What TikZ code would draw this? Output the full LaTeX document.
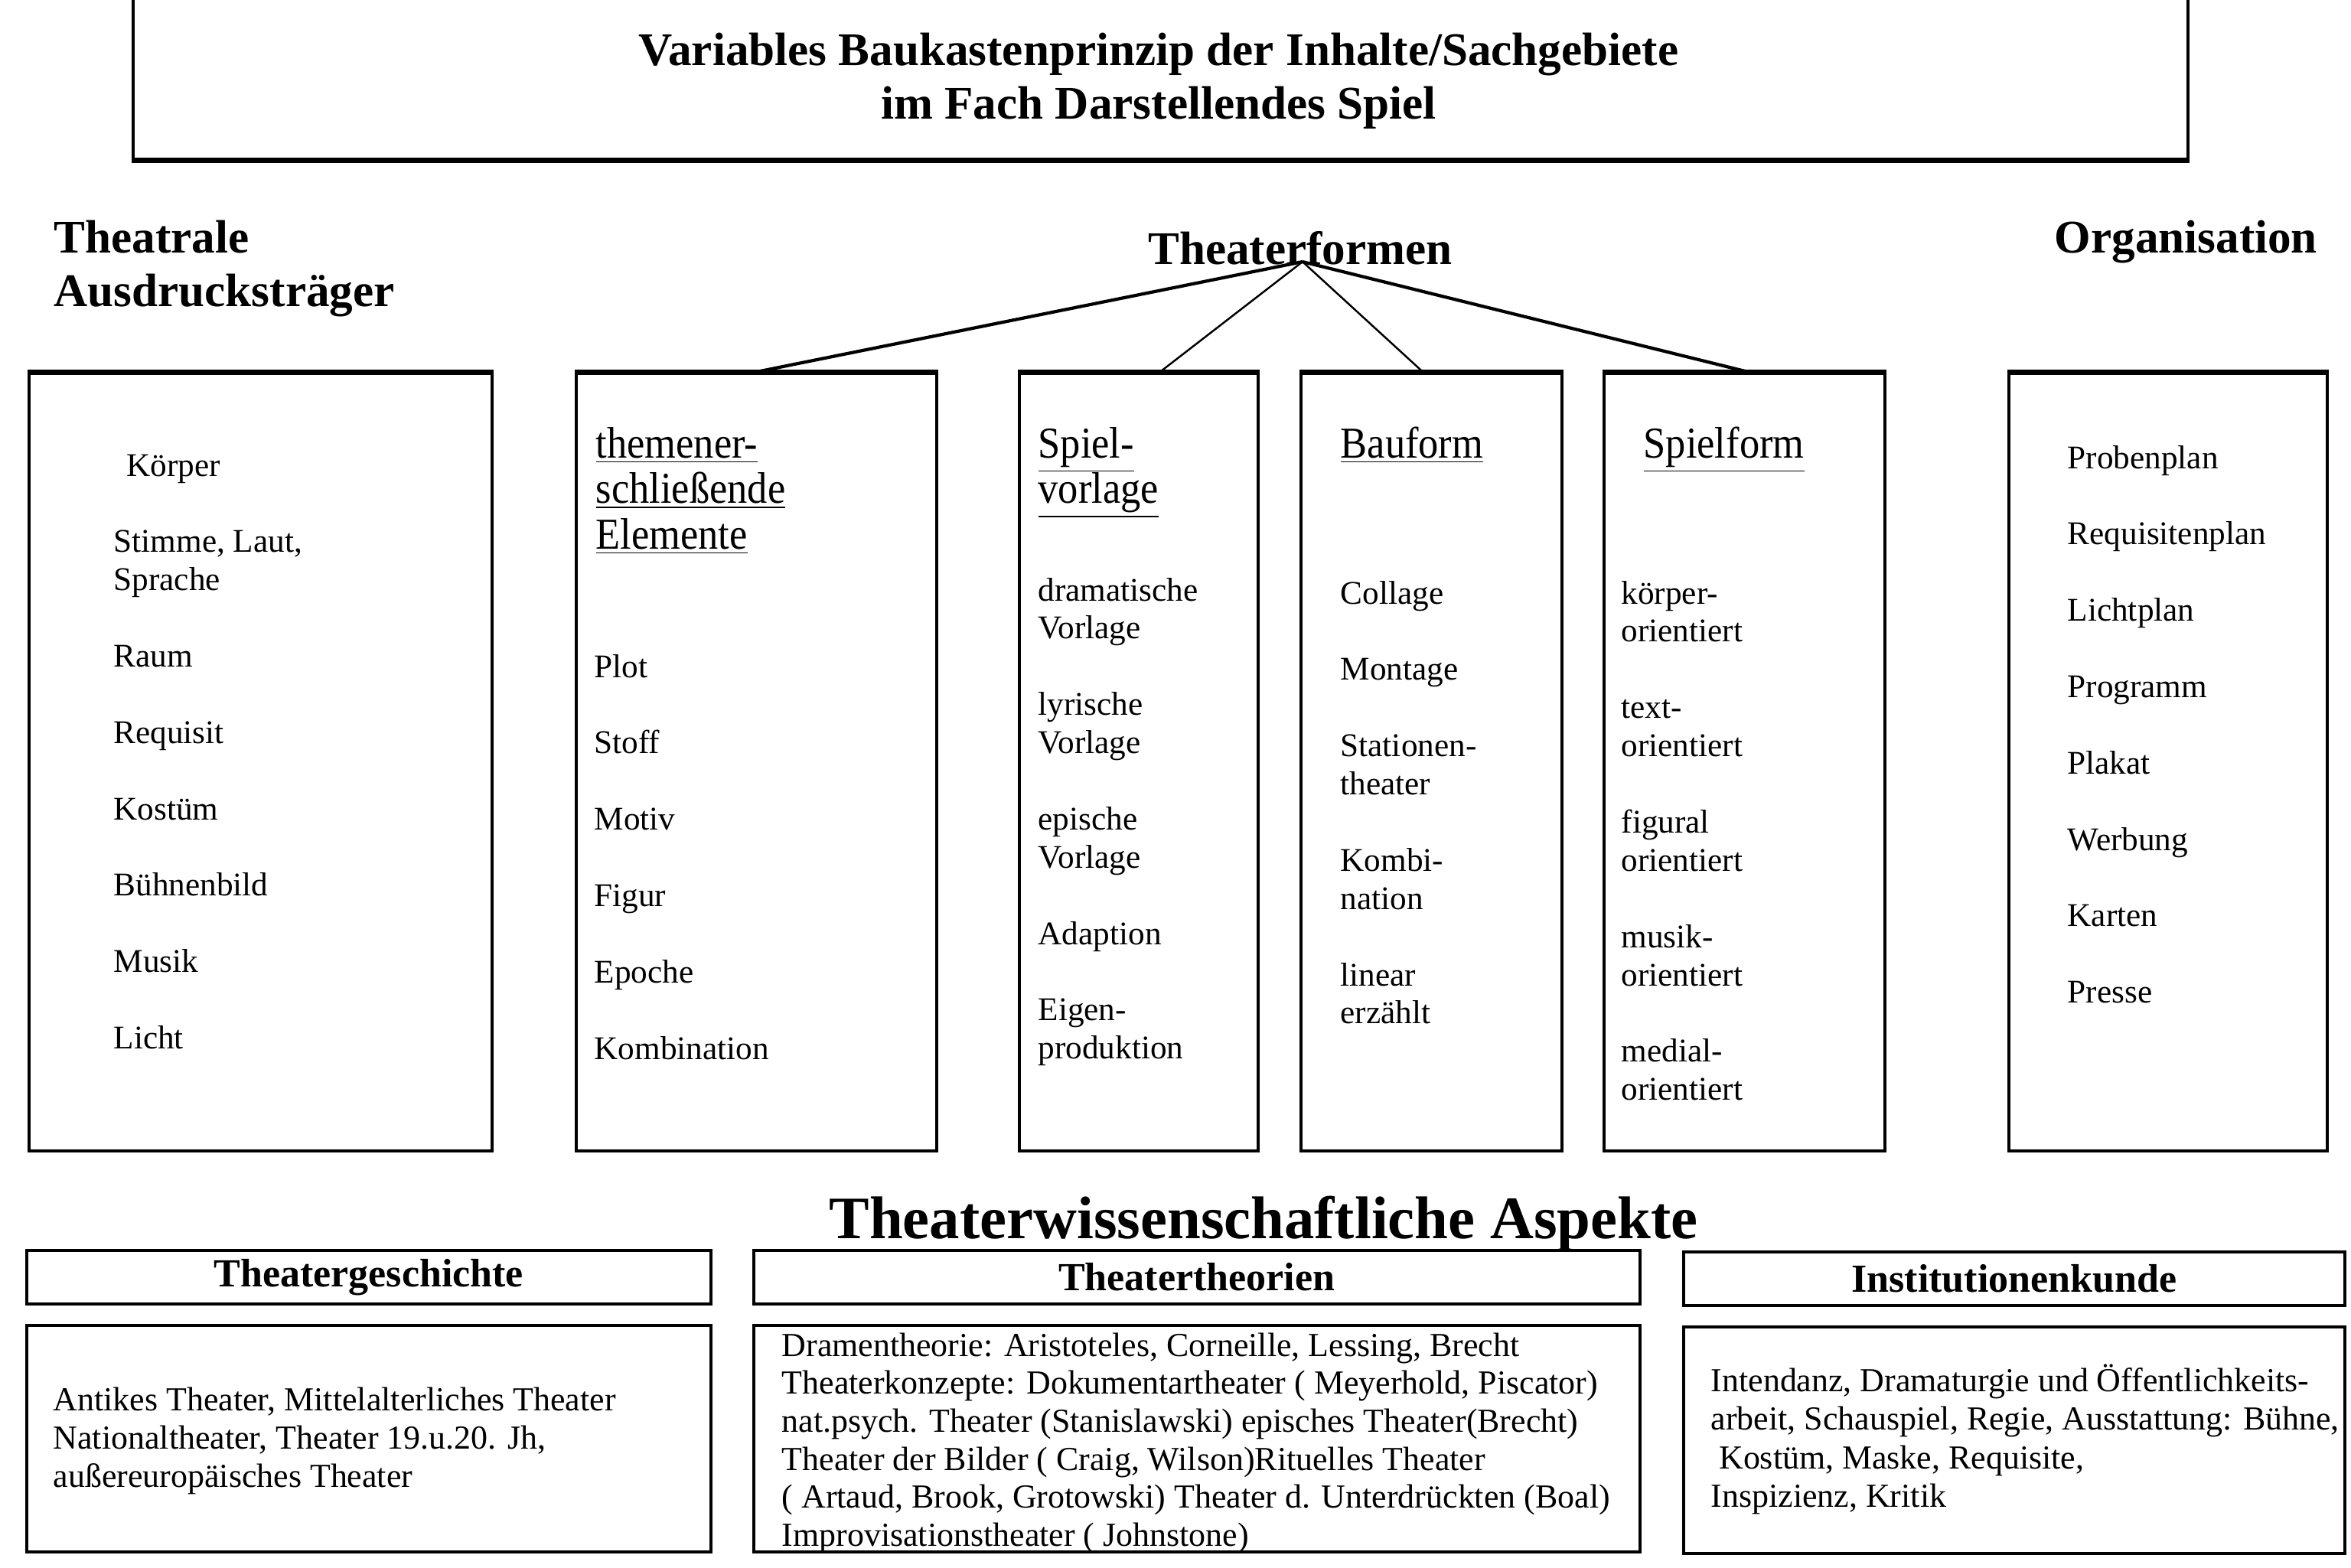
\documentclass[tikz,border=0pt]{standalone}
\usepackage{fontspec}
\setmainfont{Liberation Serif}
\usetikzlibrary{positioning}

\newcommand{\headword}[1]{\scalebox{0.91}[1]{\underline{#1}}}

\begin{document}
\begin{tikzpicture}[
  frame/.style={draw, line width=1pt, anchor=north west, inner sep=0pt},
  heavy/.style={line width=2pt},
  head/.style={font=\fontsize{17.4}{20}\selectfont\bfseries, inner sep=0pt},
  colhead/.style={font=\fontsize{16.4}{17}\selectfont, inner sep=0pt, anchor=base west},
  entry/.style={font=\fontsize{12.3}{14.2}\selectfont, inner sep=0pt, anchor=base west},
  bodytext/.style={font=\fontsize{12.5}{14.2}\selectfont, inner sep=0pt, anchor=base west},
  subhead/.style={frame, font=\fontsize{14.8}{17}\selectfont\bfseries},
  spoke/.style={line width=1.2pt},
  thinspoke/.style={line width=0.7pt}
]
  \useasboundingbox (0,0) rectangle (30.72,-20.48);

  % title
  \node[frame, minimum width=26.85cm, minimum height=2.11cm] (titlebox) at (1.72,0.05) {};
  \draw[heavy] (titlebox.south west) -- (titlebox.south east);
  \node[head, anchor=base] (title1) at (15.14,-0.85) {Variables Baukastenprinzip der Inhalte/Sachgebiete};
  \node[head, anchor=base] (title2) at (15.14,-1.55) {im Fach Darstellendes Spiel};

  % group headings
  \node[head, anchor=base west] (ausd1) at (0.70,-3.30) {Theatrale};
  \node[head, anchor=base west] (ausd2) at (0.70,-4.00) {Ausdrucksträger};
  \node[head, anchor=base] (tf) at (16.99,-3.45) {Theaterformen};
  \node[head, anchor=base west] (org) at (26.84,-3.30) {Organisation};

  % column boxes
  \node[frame, minimum width=6.05cm, minimum height=10.16cm] (ausdbox)    at (0.36,-4.86) {};
  \node[frame, minimum width=4.71cm, minimum height=10.16cm] (themenbox)  at (7.51,-4.86) {};
  \node[frame, minimum width=3.12cm, minimum height=10.16cm] (vorlagebox) at (13.30,-4.86) {};
  \node[frame, minimum width=3.41cm, minimum height=10.16cm] (baubox)     at (16.98,-4.86) {};
  \node[frame, minimum width=3.67cm, minimum height=10.16cm] (spielbox)   at (20.94,-4.86) {};
  \node[frame, minimum width=4.16cm, minimum height=10.16cm] (orgbox)     at (26.23,-4.86) {};
  \foreach \b in {ausdbox,themenbox,vorlagebox,baubox,spielbox,orgbox}
    \draw[heavy] (\b.north west) -- (\b.north east);

  % spokes from Theaterformen
  \coordinate (apex) at (17.02,-3.42);
  \draw[spoke] (apex) -- (themenbox.north);
  \draw[thinspoke] (apex) -- ([xshift=2.8mm]vorlagebox.north);
  \draw[thinspoke] (apex) -- ([xshift=-1.1mm]baubox.north);
  \draw[spoke] (apex) -- ([xshift=0.5mm]spielbox.north);

  % Theatrale Ausdrucksträger
  \foreach \txt/\ln [count=\i] in {\hspace*{4.8pt}Körper/0, {Stimme, Laut,}/2, Sprache/3,
      Raum/5, Requisit/7, Kostüm/9, Bühnenbild/11, Musik/13, Licht/15}
    \node[entry] (ausd-\i) at (1.48,-6.22-0.499*\ln) {\txt};

  % themenerschließende Elemente
  \foreach \txt/\ln [count=\i] in {themener-/0, schließende/1, Elemente/2}
    \node[colhead] (themenhead-\i) at (7.78,-5.98-0.595*\ln) {\headword{\txt}};
  \foreach \txt/\ln [count=\i] in {Plot/0, Stoff/2, Motiv/4, Figur/6, Epoche/8, Kombination/10}
    \node[entry] (themen-\i) at (7.76,-8.85-0.499*\ln) {\txt};

  % Spielvorlage
  \foreach \txt/\ln [count=\i] in {Spiel-/0, vorlage/1}
    \node[colhead] (vorlagehead-\i) at (13.56,-5.98-0.595*\ln) {\headword{\txt}};
  \foreach \txt/\ln [count=\i] in {dramatische/0, Vorlage/1, lyrische/3, Vorlage/4,
      epische/6, Vorlage/7, Adaption/9, Eigen-/11, produktion/12}
    \node[entry] (vorlage-\i) at (13.56,-7.85-0.499*\ln) {\txt};

  % Bauform
  \node[colhead] (bauhead) at (17.51,-5.98) {\headword{Bauform}};
  \foreach \txt/\ln [count=\i] in {Collage/0, Montage/2, Stationen-/4, theater/5,
      Kombi-/7, nation/8, linear/10, erzählt/11}
    \node[entry] (bau-\i) at (17.51,-7.89-0.499*\ln) {\txt};

  % Spielform
  \node[colhead] (spielhead) at (21.47,-5.98) {\headword{Spielform}};
  \foreach \txt/\ln [count=\i] in {körper-/0, orientiert/1, text-/3, orientiert/4,
      figural/6, orientiert/7, musik-/9, orientiert/10, medial-/12, orientiert/13}
    \node[entry] (spiel-\i) at (21.18,-7.89-0.499*\ln) {\txt};

  % Organisation
  \foreach \txt/\ln [count=\i] in {Probenplan/0, Requisitenplan/2, Lichtplan/4, Programm/6,
      Plakat/8, Werbung/10, Karten/12, Presse/14}
    \node[entry] (org-\i) at (27.01,-6.12-0.499*\ln) {\txt};

  % Theaterwissenschaftliche Aspekte
  \node[font=\fontsize{22.4}{26}\selectfont\bfseries, inner sep=0pt, anchor=base] (aspekte)
    at (16.51,-16.18) {Theaterwissenschaftliche Aspekte};

  \node[subhead, minimum width=8.94cm, minimum height=0.70cm] (gesch) at (0.33,-16.32) {Theatergeschichte};
  \node[subhead, minimum width=11.58cm, minimum height=0.70cm] (theo) at (9.83,-16.32) {Theatertheorien};
  \node[subhead, minimum width=8.64cm, minimum height=0.70cm] (inst) at (21.98,-16.34) {Institutionenkunde};

  \node[frame, minimum width=8.94cm, minimum height=2.96cm] (geschbox) at (0.33,-17.30) {};
  \node[frame, minimum width=11.58cm, minimum height=2.96cm] (theobox) at (9.83,-17.30) {};
  \node[frame, minimum width=8.64cm, minimum height=2.96cm] (instbox) at (21.98,-17.32) {};

  \foreach \txt [count=\i from 0] in {{Antikes Theater, Mittelalterliches Theater},
      {Nationaltheater, Theater 19.u.20. Jh,}, außereuropäisches Theater}
    \node[bodytext] (gesch-\i) at (0.69,-18.43-0.50*\i) {\txt};

  \foreach \txt [count=\i from 0] in {{Dramentheorie: Aristoteles, Corneille, Lessing, Brecht},
      {Theaterkonzepte: Dokumentartheater ( Meyerhold, Piscator)},
      {nat.psych. Theater (Stanislawski) episches Theater(Brecht)},
      {Theater der Bilder ( Craig, Wilson)Rituelles Theater},
      {( Artaud, Brook, Grotowski) Theater d. Unterdrückten (Boal)},
      {Improvisationstheater ( Johnstone)}}
    \node[bodytext] (theo-\i) at (10.21,-17.72-0.497*\i) {\txt};

  \foreach \txt [count=\i from 0] in {{Intendanz, Dramaturgie und Öffentlichkeits-},
      {arbeit, Schauspiel, Regie, Ausstattung: Bühne,},
      {\hspace*{3pt}Kostüm, Maske, Requisite,},
      {Inspizienz, Kritik}}
    \node[bodytext] (inst-\i) at (22.35,-18.18-0.505*\i) {\txt};
\end{tikzpicture}
\end{document}
